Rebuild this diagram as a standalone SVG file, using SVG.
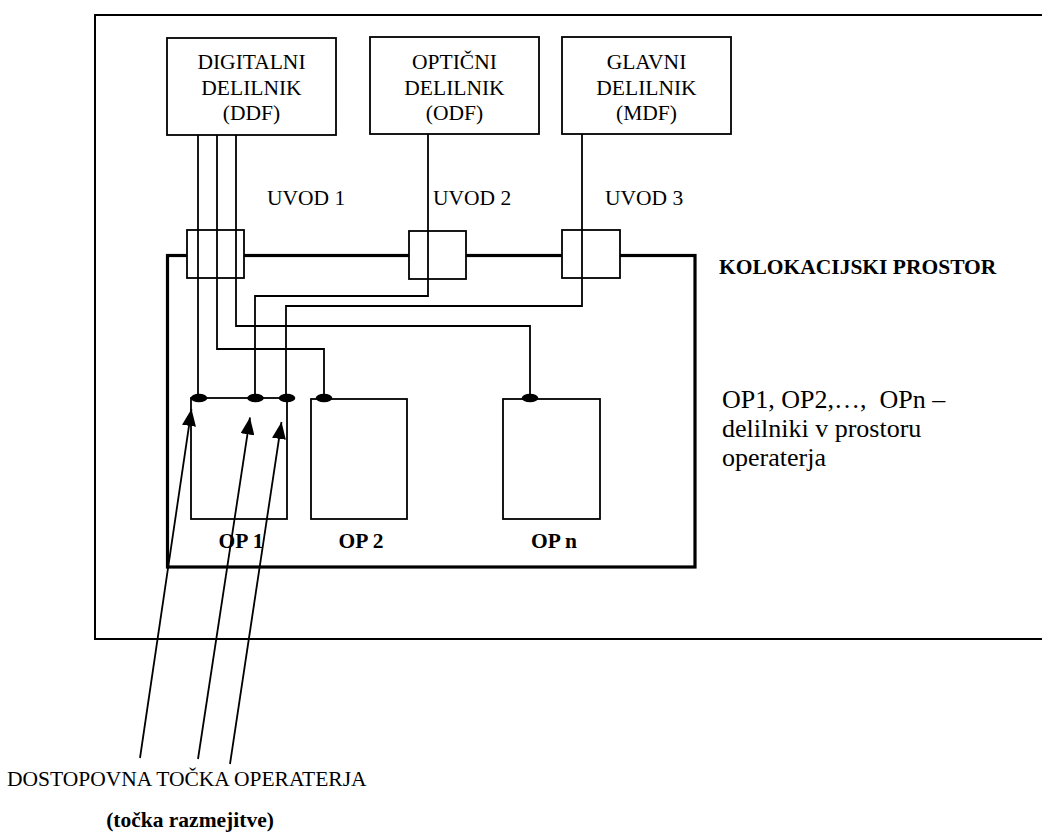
<svg xmlns="http://www.w3.org/2000/svg" width="1042" height="839" viewBox="0 0 1042 839" font-family="'Liberation Serif', 'DejaVu Serif', serif">
<style>
text{font-family:'Liberation Serif','Times New Roman',serif;font-size:21.5px;fill:#000}
.b{font-weight:bold}
.c{text-anchor:middle}
.box{fill:#fff;stroke:#000;stroke-width:1.8}
.w{fill:none;stroke:#000;stroke-width:1.8}
.dot{fill:#000}
.arr{stroke:#000;stroke-width:1.8;fill:none;marker-end:url(#ah)}
.lg{font-size:26px}
</style>
<defs>
<marker id="ah" markerUnits="userSpaceOnUse" markerWidth="18" markerHeight="14" refX="17" refY="7" orient="auto">
<path d="M0,0 L17,7 L0,14 Z" fill="#000"/>
</marker>
</defs>
<rect width="1042" height="839" fill="#fff"/>
<g id="building">
<path d="M1046,15 L95,15 L95,639 L1046,639" fill="none" stroke="#000" stroke-width="2"/>
</g>
<g id="kolokacija">
<rect x="167.5" y="255.5" width="527.5" height="311.5" fill="none" stroke="#000" stroke-width="3.2"/>
<text class="b" x="719" y="274" font-size="20.4">KOLOKACIJSKI PROSTOR</text>
</g>
<g id="ddf">
<rect class="box" x="167" y="38" width="169" height="97"/>
<text class="c" x="251.5" y="69">DIGITALNI</text>
<text class="c" x="251.5" y="94.5">DELILNIK</text>
<text class="c" x="251.5" y="119.5">(DDF)</text>
</g>
<g id="odf">
<rect class="box" x="370" y="37" width="169" height="97"/>
<text class="c" x="454.5" y="69">OPTIČNI</text>
<text class="c" x="454.5" y="94.5">DELILNIK</text>
<text class="c" x="454.5" y="119.5">(ODF)</text>
</g>
<g id="mdf">
<rect class="box" x="562" y="37" width="169" height="97"/>
<text class="c" x="646.5" y="69">GLAVNI</text>
<text class="c" x="646.5" y="94.5">DELILNIK</text>
<text class="c" x="646.5" y="119.5">(MDF)</text>
</g>
<g id="uvod1">
<rect class="box" x="187" y="230" width="57" height="48"/>
<text x="267" y="205" font-size="21">UVOD 1</text>
</g>
<g id="uvod2">
<rect class="box" x="409" y="231" width="57" height="48"/>
<text x="433" y="205" font-size="21">UVOD 2</text>
</g>
<g id="uvod3">
<rect class="box" x="562" y="230" width="58" height="48"/>
<text x="605" y="205" font-size="21">UVOD 3</text>
</g>
<g id="op1">
<rect class="box" x="191" y="398" width="96" height="121"/>
<text class="b c" x="241" y="548" font-size="21">OP 1</text>
</g>
<g id="op2">
<rect class="box" x="311" y="399" width="96" height="120"/>
<text class="b c" x="361" y="548" font-size="21">OP 2</text>
</g>
<g id="opn">
<rect class="box" x="503" y="399" width="97" height="120"/>
<text class="b c" x="554" y="548" font-size="21">OP n</text>
</g>
<g id="connectors">
<path class="w" d="M198,135 L198,398"/>
<path class="w" d="M217,135 L217,349 L324,349 L324,398"/>
<path class="w" d="M236,135 L236,326 L530,326 L530,398"/>
<path class="w" d="M428,134 L428,296 L255,296 L255,398"/>
<path class="w" d="M582,134 L582,306 L286,306 L286,398" stroke-width="2"/>
<ellipse class="dot" cx="199" cy="398" rx="8.3" ry="4.3"/>
<ellipse class="dot" cx="255.5" cy="398" rx="8.3" ry="4.3"/>
<ellipse class="dot" cx="287" cy="398" rx="8.3" ry="4.3"/>
<ellipse class="dot" cx="324" cy="398" rx="8.3" ry="4.3"/>
<ellipse class="dot" cx="530" cy="398" rx="8.3" ry="4.3"/>
<line class="arr" x1="140" y1="758" x2="191.5" y2="409"/>
<line class="arr" x1="198" y1="759" x2="250" y2="417.5"/>
<line class="arr" x1="230" y1="764" x2="281.5" y2="422"/>
</g>
<g id="legend">
<text class="lg" x="722" y="408">OP1, OP2,…,&#160; OPn –</text>
<text class="lg" x="722" y="437">delilniki v prostoru</text>
<text class="lg" x="722" y="466">operaterja</text>
</g>
<g id="dostopovna">
<text x="7" y="786" font-size="22.2">DOSTOPOVNA TOČKA OPERATERJA</text>
<text class="b c" x="190" y="827" font-size="19.5">(točka razmejitve)</text>
</g>
</svg>
